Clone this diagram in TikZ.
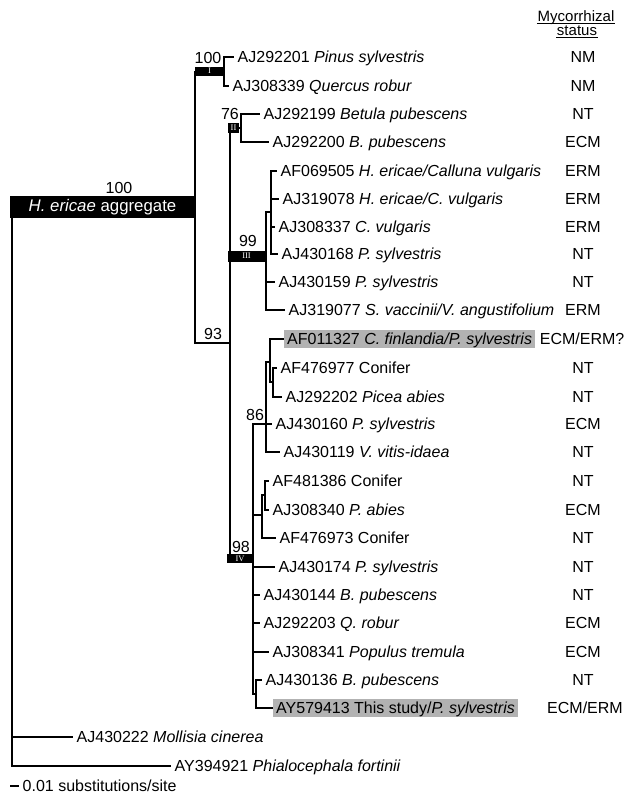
\documentclass[tikz,border=0pt]{standalone}
\usepackage{fontspec}
\setmainfont{Liberation Sans}
\newfontfamily\romfont{Liberation Serif}
\newcommand{\lblfont}{\fontsize{16}{18}\selectfont}
\begin{document}
\begin{tikzpicture}[x=1pt,y=-1pt,line width=1.4pt,
  lf/.style={anchor=west,inner xsep=3.5pt,inner ysep=0pt,text height=11.5pt,text depth=1pt,font=\lblfont},
  hl/.style={lf,fill=black!30,inner xsep=3pt,inner ysep=2.5pt},
  st/.style={inner sep=0pt,text height=11.5pt,text depth=1pt,font=\lblfont},
  bs/.style={inner sep=0pt,anchor=base,font=\lblfont},
  hd/.style={inner sep=0pt,anchor=base,font=\fontsize{15}{16}\selectfont},
  ul/.style={line width=0.8pt},
  cb/.style={fill=black,text=white,inner sep=0pt,font=\romfont\fontsize{8.5}{8.5}\selectfont}]
\useasboundingbox (0,0) rectangle (624,798);

% header
\node[hd] (hd1) at (576,21) {Mycorrhizal};
\node[hd] (hd2) at (577,35) {status};
\draw[ul] ([yshift=-2.2pt]hd1.base west) -- ([yshift=-2.2pt]hd1.base east);
\draw[ul] ([yshift=-2.2pt]hd2.base west) -- ([yshift=-2.2pt]hd2.base east);

% leaves
\node[lf] (l1) at (233.5,57) {AJ292201 \textit{Pinus sylvestris}};
\node[lf] (l2) at (228.5,86) {AJ308339 \textit{Quercus robur}};
\node[lf] (l3) at (259.5,114) {AJ292199 \textit{Betula pubescens}};
\node[lf] (l4) at (268.5,142) {AJ292200 \textit{B. pubescens}};
\node[lf] (l5) at (276.5,171) {AF069505 \textit{H. ericae/Calluna vulgaris}};
\node[lf] (l6) at (278.5,199) {AJ319078 \textit{H. ericae/C. vulgaris}};
\node[lf] (l7) at (274.5,227) {AJ308337 \textit{C. vulgaris}};
\node[lf] (l8) at (277.5,254) {AJ430168 \textit{P. sylvestris}};
\node[lf] (l9) at (274.5,282) {AJ430159 \textit{P. sylvestris}};
\node[lf] (l10) at (284.5,310) {AJ319077 \textit{S. vaccinii/V. angustifolium}};
\node[hl] (l11) at (283.5,339) {AF011327 \textit{C. finlandia/P. sylvestris}};
\node[lf] (l12) at (276.5,368) {AF476977 Conifer};
\node[lf] (l13) at (281.5,397) {AJ292202 \textit{Picea abies}};
\node[lf] (l14) at (271.5,424) {AJ430160 \textit{P. sylvestris}};
\node[lf] (l15) at (279.5,452) {AJ430119 \textit{V. vitis-idaea}};
\node[lf] (l16) at (268.5,481) {AF481386 Conifer};
\node[lf] (l17) at (268.5,510) {AJ308340 \textit{P. abies}};
\node[lf] (l18) at (275.5,538) {AF476973 Conifer};
\node[lf] (l19) at (274.5,567) {AJ430174 \textit{P. sylvestris}};
\node[lf] (l20) at (259.5,595) {AJ430144 \textit{B. pubescens}};
\node[lf] (l21) at (259.5,623) {AJ292203 \textit{Q. robur}};
\node[lf] (l22) at (268.5,652) {AJ308341 \textit{Populus tremula}};
\node[lf] (l23) at (261.5,680) {AJ430136 \textit{B. pubescens}};
\node[hl] (l24) at (272.5,708) {AY579413 This study/\textit{P. sylvestris}};
\node[lf] (l25) at (72.5,737) {AJ430222 \textit{Mollisia cinerea}};
\node[lf] (l26) at (170.5,766) {AY394921 \textit{Phialocephala fortinii}};

% status
\node[st] (s1) at (583,57) {NM};
\node[st] (s2) at (583,86) {NM};
\node[st] (s3) at (583,114) {NT};
\node[st] (s4) at (583,142) {ECM};
\node[st] (s5) at (583,171) {ERM};
\node[st] (s6) at (583,199) {ERM};
\node[st] (s7) at (583,227) {ERM};
\node[st] (s8) at (583,254) {NT};
\node[st] (s9) at (583,282) {NT};
\node[st] (s10) at (583,310) {ERM};
\node[st,anchor=east] (s11) at (625,339) {ECM/ERM?};
\node[st] (s12) at (583,368) {NT};
\node[st] (s13) at (583,397) {NT};
\node[st] (s14) at (583,424) {ECM};
\node[st] (s15) at (583,452) {NT};
\node[st] (s16) at (583,481) {NT};
\node[st] (s17) at (583,510) {ECM};
\node[st] (s18) at (583,538) {NT};
\node[st] (s19) at (583,567) {NT};
\node[st] (s20) at (583,595) {NT};
\node[st] (s21) at (583,623) {ECM};
\node[st] (s22) at (583,652) {ECM};
\node[st] (s23) at (583,680) {NT};
\node[st] (s24) at (585,708) {ECM/ERM};

% internal nodes
\coordinate (root) at (12,207);
\coordinate (tI) at (195,71);
\coordinate (nI) at (224,71);
\coordinate (n93) at (230,343);
\coordinate (nII) at (241,128);
\coordinate (nIII) at (266,256);
\coordinate (nIIIa) at (271,212);
\coordinate (nIV) at (253,558);
\coordinate (n86) at (266,424);
\coordinate (nA) at (270,362);
\coordinate (nB) at (273,382);
\coordinate (nC) at (262,515);
\coordinate (nE) at (265,495);
\coordinate (nD) at (256,694);

% root
\draw (root) |- (l25.west);
\draw (root) |- (l26.west);
% H. ericae aggregate
\draw (tI) |- (n93);
\draw (tI) -- (nI);
\draw (nI) |- (l1.west);
\draw (nI) |- (l2.west);
\draw (n93) |- (nII);
\draw (n93) |- (nIII);
\draw (n93) |- (nIV);
% clade II
\draw (nII) |- (l3.west);
\draw (nII) |- (l4.west);
% clade III
\draw (nIII) |- (nIIIa);
\draw (nIIIa) |- (l5.west);
\draw (nIIIa) |- (l6.west);
\draw (nIIIa) |- (l7.west);
\draw (nIIIa) |- (l8.west);
\draw (nIII) |- (l9.west);
\draw (nIII) |- (l10.west);
% clade IV
\draw (nIV) |- (n86);
\draw (n86) |- (nA);
\draw (nA) |- (l11.west);
\draw (nA) |- (nB);
\draw (nB) |- (l12.west);
\draw (nB) |- (l13.west);
\draw (n86) -- (l14.west);
\draw (n86) |- (l15.west);
\draw (nIV) |- (nC);
\draw (nC) |- (nE);
\draw (nE) |- (l16.west);
\draw (nE) |- (l17.west);
\draw (nC) |- (l18.west);
\draw (nIV) |- (l19.west);
\draw (nIV) |- (l20.west);
\draw (nIV) |- (l21.west);
\draw (nIV) |- (l22.west);
\draw (nIV) |- (nD);
\draw (nD) |- (l23.west);
\draw (nD) |- (l24.west);

% clade boxes
\node[fill=black,text=white,inner sep=0pt,minimum width=185pt,minimum height=22pt,
      font=\fontsize{16.8}{18}\selectfont] (hbox) at (102.5,207) {\textit{H. ericae} aggregate};
\node[cb,minimum width=29pt,minimum height=9pt] (bI) at (209.5,71) {I};
\node[cb,minimum width=11pt,minimum height=10pt] (bII) at (233.5,128) {II};
\node[cb,minimum width=37pt,minimum height=11pt] (bIII) at (246.5,256) {III};
\node[cb,minimum width=26pt,minimum height=9pt] (bIV) at (240,558.5) {IV};

% bootstrap values
\node[bs] (b100a) at (119,193) {100};
\node[bs] (b100b) at (208,63) {100};
\node[bs] (b76) at (230,119) {76};
\node[bs] (b99) at (248,246) {99};
\node[bs] (b93) at (213,339) {93};
\node[bs] (b86) at (255,420) {86};
\node[bs] (b98) at (241,552) {98};

% scale bar
\coordinate (sc1) at (10,786);
\coordinate (sc2) at (19,786);
\draw (sc1) -- (sc2);
\node[lf,inner xsep=0pt] (sct) at (22,786) {0.01 substitutions/site};
\end{tikzpicture}
\end{document}
